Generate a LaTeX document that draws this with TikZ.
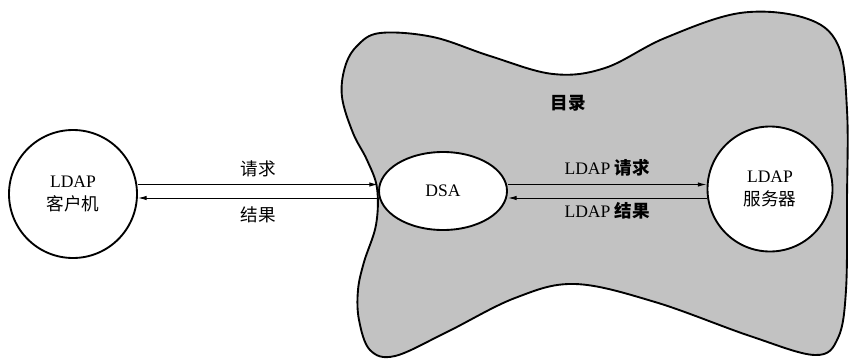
\documentclass[tikz,border=0pt]{standalone}
\usepackage{fontspec}
\setmainfont{Liberation Serif}
\newfontfamily\cjk{Noto Sans CJK SC}
\usetikzlibrary{shapes.geometric,arrows.meta,positioning}
\tikzset{
  conn/.style={line width=0.8pt},
  tip/.style={-{Latex[length=2.6mm,width=1.3mm]}},
  pit/.style={{Latex[length=2.6mm,width=1.3mm]}-},
}
\begin{document}
\begin{tikzpicture}[x=0.3mm,y=-0.3mm,line width=1.6pt,
  font=\fontsize{15}{20}\selectfont]
\useasboundingbox (0,0) rectangle (850,360);
% directory
\draw[fill=black!24] plot[smooth cycle,tension=0.6] coordinates {
  (377,188) (367,160) (353,133) (342,97) (345,67) (357,46) (380,33)
  (433,37) (490,56) (553,74) (605,68) (665,38) (740,13) (805,18)
  (838,45) (847,110) (847,200) (846,290) (838,338) (815,355)
  (750,336) (655,302) (575,284) (515,298) (447,332) (395,356)
  (370,350) (359,320) (358,290) (364,262) (376,225)};
\node (dir) at (568,103) {\cjk\bfseries 目录};
\node[circle,draw,fill=white,align=center,inner sep=0pt,minimum size=38.4mm]
  (client) at (73,194) {LDAP\\\cjk 客户机};
\node[ellipse,draw,fill=white,inner sep=0pt,minimum width=38.4mm,minimum height=23.4mm]
  (DSA) at (443,191) {DSA};
\node[circle,draw,fill=white,align=center,inner sep=0pt,minimum size=37.5mm]
  (server) at (770,189) {LDAP\\\cjk 服务器};
\coordinate (up) at (0,184.5);
\coordinate (dn) at (0,198);
\draw[conn,tip] (client.east |- up) -- node[above=1mm] {\cjk 请求} (DSA.west |- up);
\draw[conn,pit] (client.east |- dn) -- node[below=1.3mm] {\cjk 结果} (DSA.west |- dn);
\draw[conn,tip] (DSA.east |- up) -- node[above=1.3mm] {LDAP {\cjk\bfseries 请求}} (server.west |- up);
\draw[conn,pit] (DSA.east |- dn) -- node[below=0mm] {LDAP {\cjk\bfseries 结果}} (server.west |- dn);
\end{tikzpicture}
\end{document}
